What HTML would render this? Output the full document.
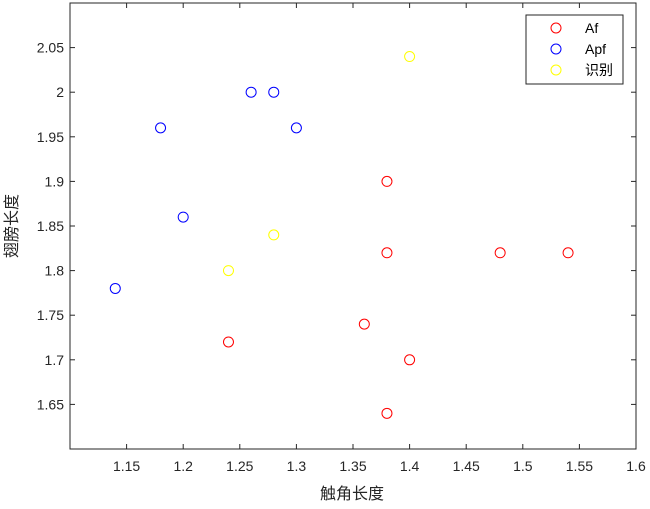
<!DOCTYPE html>
<html><head><meta charset="utf-8"><style>
body{margin:0;background:#fff;}
svg text{font-family:"Liberation Sans","Noto Sans CJK SC",sans-serif;}
</style></head><body>
<svg width="650" height="504" xmlns="http://www.w3.org/2000/svg">
<rect x="0" y="0" width="650" height="504" fill="#fff"/>
<g id="grid"></g>
<g id="pts"></g>
<g id="legend"></g>
</svg>
<script>
const xTicks=[1.15,1.2,1.25,1.3,1.35,1.4,1.45,1.5,1.55,1.6];
const xTickLabels=['1.15','1.2','1.25','1.3','1.35','1.4','1.45','1.5','1.55','1.6'];
const yTicks=[1.65,1.7,1.75,1.8,1.85,1.9,1.95,2,2.05];
const yTickLabels=['1.65','1.7','1.75','1.8','1.85','1.9','1.95','2','2.05'];
const afX=[1.56,1.38,1.38,1.48,1.54,1.36,1.24,1.4,1.38];
const afY=[2.08,1.9,1.82,1.82,1.82,1.74,1.72,1.7,1.64];
const apfX=[1.18,1.26,1.28,1.3,1.2,1.14];
const apfY=[1.96,2,2,1.96,1.86,1.78];
const idX=[1.4,1.28,1.24];
const idY=[2.04,1.84,1.8];
const L=70,R=636,T=3,B=449;
const sx=v=>L+(v-1.1)/(0.5)*(R-L);
const sy=v=>B-(v-1.6)/(0.5)*(B-T);
const NS='http://www.w3.org/2000/svg';
function mk(t,a,p,txt){const e=document.createElementNS(NS,t);for(const k in a)e.setAttribute(k,a[k]);if(txt!==undefined)e.textContent=txt;p.appendChild(e);return e;}
const g=document.getElementById('grid');
const box=mk('rect',{x:L,y:T,width:R-L,height:B-T,fill:'none',stroke:'#262626','stroke-width':1},g);


xTicks.forEach((v,i)=>{const x=sx(v);
 mk('line',{x1:x,x2:x,y1:B,y2:B-5,stroke:'#262626'},g);
 mk('line',{x1:x,x2:x,y1:T,y2:T+5,stroke:'#262626'},g);
 const t=mk('text',{x:x,y:B+22,'text-anchor':'middle','font-size':14,fill:'#262626'},g,xTickLabels[i]);
 
 });
yTicks.forEach((v,i)=>{const y=sy(v);
 mk('line',{x1:L,x2:L+5,y1:y,y2:y,stroke:'#262626'},g);
 mk('line',{x1:R,x2:R-5,y1:y,y2:y,stroke:'#262626'},g);
 const t=mk('text',{x:L-6,y:y+5,'text-anchor':'end','font-size':14,fill:'#262626'},g,yTickLabels[i]);
 
 });
const xl=mk('text',{x:352,y:499,'text-anchor':'middle','font-size':16,fill:'#262626','font-family':'"Noto Serif CJK SC",serif'},g,'触角长度');


const yl=mk('text',{x:0,y:0,'text-anchor':'middle','font-size':16,fill:'#262626','font-family':'"Noto Serif CJK SC",serif',transform:'translate(17,226) rotate(-90)'},g,'翅膀长度');


const p=document.getElementById('pts');
function series(xs,ys,c,n){xs.forEach((v,i)=>{const e=mk('circle',{cx:sx(v),cy:sy(ys[i]),r:5,fill:'none',stroke:c,'stroke-width':1},p);
 
 });}
series(afX,afY,'#ff0000','af-point');
series(apfX,apfY,'#0000ff','apf-point');
series(idX,idY,'#ffff00','identify-point');
const lg=document.getElementById('legend');


mk('rect',{x:526,y:15,width:97,height:69,fill:'#fff',stroke:'#262626','stroke-width':1},lg);
[['Af','#ff0000'],['Apf','#0000ff'],['识别','#ffff00']].forEach((d,i)=>{const y=28+i*21;
 const c=mk('circle',{cx:556,cy:y,r:5,fill:'none',stroke:d[1]},lg);
 
 
 const t=mk('text',{x:585,y:y+5,'font-size':14,fill:'#000'},lg,d[0]);
 
 });
</script>
</body></html>
